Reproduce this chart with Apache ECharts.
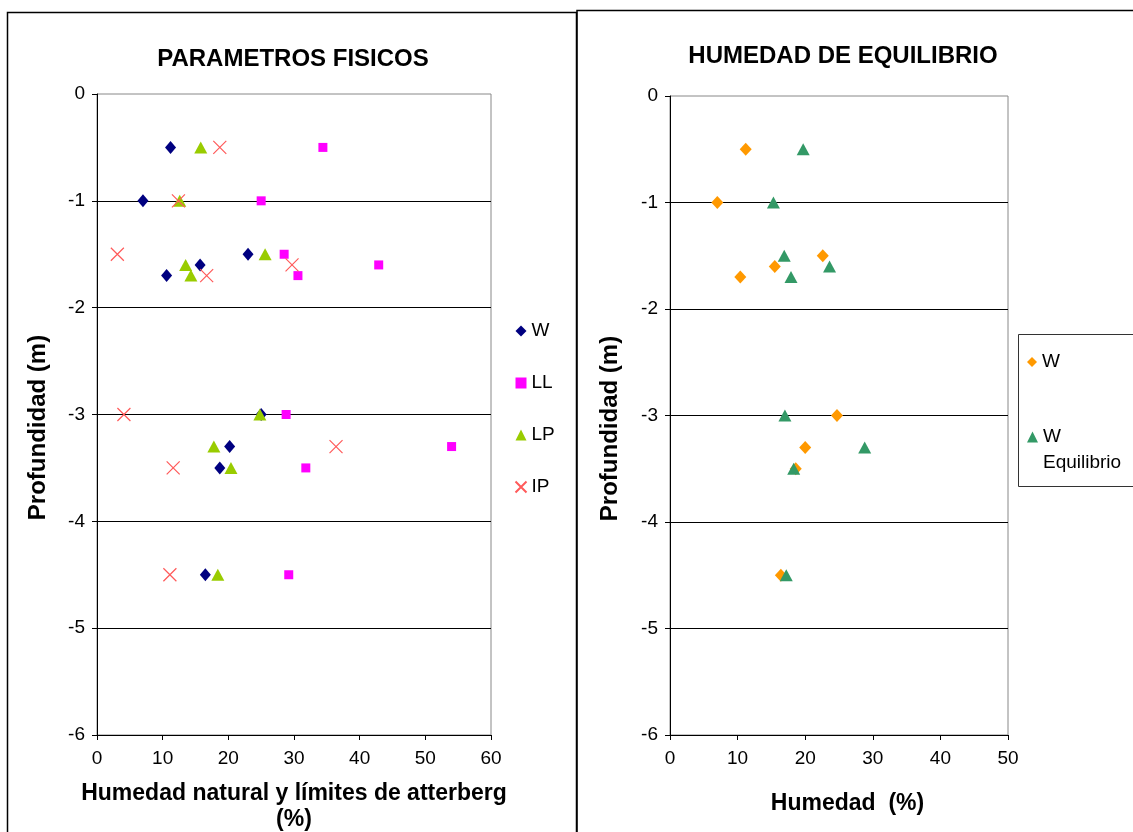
<!DOCTYPE html>
<html><head><meta charset="utf-8">
<script src="https://cdn.jsdelivr.net/npm/echarts@6/dist/echarts.min.js"></script>
<style>html,body{margin:0;padding:0;background:#fff}#c{width:1133px;height:832px}</style>
</head><body><div id="c"></div>
<script>
// ---- data ----
const depth = [-0.5, -1, -1.5, -1.6, -1.7, -3, -3.3, -3.5, -4.5];
const wLeft  = [11.2, 7.0, 23.0, 15.7, 10.6, 25.0, 20.2, 18.7, 16.5];
const llLeft = [34.4, 25.0, 28.5, 42.9, 30.6, 28.8, 54.0, 31.8, 29.2];
const lpLeft = [15.8, 12.6, 25.6, 13.5, 14.3, 24.8, 17.8, 20.4, 18.4];
const ipLeft = [18.7, 12.4, 3.1, 29.7, 16.7, 4.1, 36.4, 11.6, 11.1];
const wRight  = [11.2, 7.0, 22.6, 15.5, 10.4, 24.7, 20.0, 18.6, 16.4];
const weqRight = [19.7, 15.3, 16.9, 23.6, 17.9, 17.0, 28.8, 18.3, 17.2];
const yTicks = [0, -1, -2, -3, -4, -5, -6];
const leftXTicks = [0, 10, 20, 30, 40, 50, 60];
const rightXTicks = [0, 10, 20, 30, 40, 50];

const pairs = (xs) => xs.map((x, i) => [x, depth[i]]);
const FONT = 'Liberation Sans';
const crossPath = 'path://M0,0L10,10M10,0L0,10';

function xAxis(idx, ticks, name, gap, lh, pad) {
  return {
    type: 'value', gridIndex: idx, min: ticks[0], max: ticks[ticks.length - 1], interval: 10,
    name: name, nameLocation: 'middle', nameGap: gap,
    nameTextStyle: { fontFamily: FONT, fontWeight: 'bold', fontSize: 23, color: '#000', lineHeight: lh, padding: pad },
    axisLine: { onZero: false, lineStyle: { color: '#000', width: 1 } },
    axisTick: { show: true, length: 5, lineStyle: { color: '#000' } },
    axisLabel: { margin: 14, fontFamily: FONT, fontSize: 19, color: '#000' },
    splitLine: { show: false }
  };
}
function yAxis(idx, gap) {
  return {
    type: 'value', gridIndex: idx, min: yTicks[yTicks.length - 1], max: yTicks[0], interval: 1,
    name: 'Profundidad (m)', nameLocation: 'middle', nameGap: gap,
    nameTextStyle: { fontFamily: FONT, fontWeight: 'bold', fontSize: 24, color: '#000', padding: [0, 26, 0, 0] },
    axisLine: { onZero: false, lineStyle: { color: '#000', width: 1 } },
    axisTick: { show: true, length: 5, lineStyle: { color: '#000' } },
    axisLabel: { margin: 12, fontFamily: FONT, fontSize: 19, color: '#000' },
    splitLine: { show: true, showMinLine: false, showMaxLine: false, lineStyle: { color: '#000', width: 1 } }
  };
}

const chart = echarts.init(document.getElementById('c'), null, { renderer: 'canvas' });
chart.setOption({
  backgroundColor: '#fff',
  animation: false,
  graphic: [
    { type: 'rect', shape: { x: 7.5, y: 12.5, width: 569, height: 840 }, style: { fill: 'none', stroke: '#000', lineWidth: 1.5 }, z: 0 },
    { type: 'rect', shape: { x: 577, y: 10.5, width: 600, height: 840 }, style: { fill: 'none', stroke: '#000', lineWidth: 1.5 }, z: 0 },
    { type: 'rect', shape: { x: 1018.5, y: 334.5, width: 130, height: 152 }, style: { fill: 'none', stroke: '#333', lineWidth: 1 }, z: 0 }
  ],
  title: [
    { text: 'PARAMETROS FISICOS', left: 288, top: 42, textAlign: 'center',
      textStyle: { fontFamily: FONT, fontWeight: 'bold', fontSize: 24, color: '#000' } },
    { text: 'HUMEDAD DE EQUILIBRIO', left: 838, top: 39, textAlign: 'center',
      textStyle: { fontFamily: FONT, fontWeight: 'bold', fontSize: 24, color: '#000' } }
  ],
  grid: [
    { left: 97, top: 94, width: 394, height: 641, show: true, borderColor: '#888', borderWidth: 1, backgroundColor: '#fff',
      containLabel: false, outerBoundsMode: 'none' },
    { left: 670, top: 96, width: 338, height: 639, show: true, borderColor: '#888', borderWidth: 1, backgroundColor: '#fff',
      containLabel: false, outerBoundsMode: 'none' }
  ],
  xAxis: [
    xAxis(0, leftXTicks, 'Humedad natural y límites de atterberg\n(%)', 46, 26, [0, 0, 0, 0]),
    xAxis(1, rightXTicks, 'Humedad  (%)', 57, 24, [0, 0, 0, 17])
  ],
  yAxis: [yAxis(0, 47), yAxis(1, 48)],
  legend: [
    { orient: 'vertical', left: 508, top: 316, itemGap: 32, itemWidth: 11, itemHeight: 11,
      data: ['W', 'LL', 'LP', 'IP'],
      textStyle: { fontFamily: FONT, fontSize: 19, color: '#000', lineHeight: 20 } },
    { orient: 'vertical', left: 1022, top: 346, itemWidth: 10, itemHeight: 10,
      data: ['W '],
      formatter: () => 'W',
      textStyle: { fontFamily: FONT, fontSize: 19, color: '#000', lineHeight: 22 } },
    { orient: 'vertical', left: 1022, top: 393, itemWidth: 11, itemHeight: 11,
      data: ['W Equilibrio'],
      formatter: () => '\nW\nEquilibrio',
      textStyle: { fontFamily: FONT, fontSize: 19, color: '#000', lineHeight: 26 } }
  ],
  series: [
    { name: 'W', type: 'scatter', xAxisIndex: 0, yAxisIndex: 0, symbol: 'diamond', symbolSize: [11, 13],
      itemStyle: { color: '#000080', opacity: 1 }, data: pairs(wLeft) },
    { name: 'LL', type: 'scatter', xAxisIndex: 0, yAxisIndex: 0, symbol: 'rect', symbolSize: 9,
      itemStyle: { color: '#FF00FF', opacity: 1 }, data: pairs(llLeft) },
    { name: 'LP', type: 'scatter', xAxisIndex: 0, yAxisIndex: 0, symbol: 'triangle', symbolSize: [13, 12],
      itemStyle: { color: '#99CC00', opacity: 1 }, data: pairs(lpLeft) },
    { name: 'IP', type: 'scatter', xAxisIndex: 0, yAxisIndex: 0, symbol: crossPath, symbolSize: 13,
      itemStyle: { color: 'none', borderColor: '#FF5A5A', borderWidth: 1.2, opacity: 1 }, data: pairs(ipLeft) },
    { name: 'W ', type: 'scatter', xAxisIndex: 1, yAxisIndex: 1, symbol: 'diamond', symbolSize: [12, 13],
      itemStyle: { color: '#FF9900', opacity: 1 }, data: pairs(wRight) },
    { name: 'W Equilibrio', type: 'scatter', xAxisIndex: 1, yAxisIndex: 1, symbol: 'triangle', symbolSize: [13, 12],
      itemStyle: { color: '#339966', opacity: 1 }, data: pairs(weqRight) }
  ]
});
</script>
</body></html>
